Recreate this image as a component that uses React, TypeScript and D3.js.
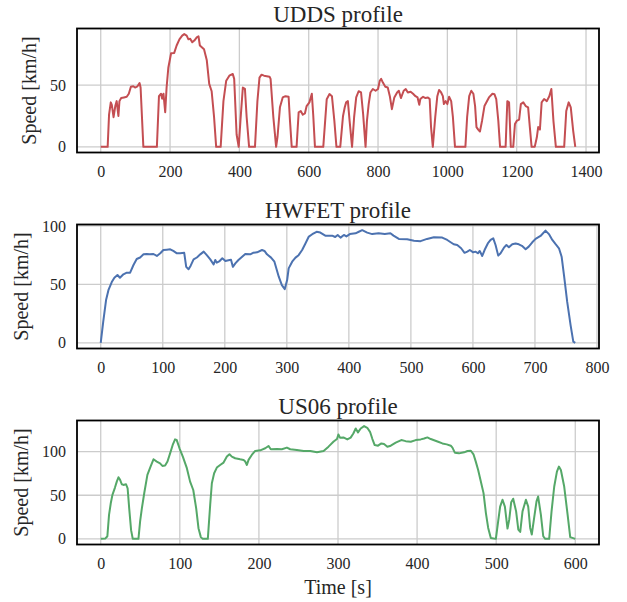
import React, { useEffect, useRef } from 'react'
import * as d3 from 'd3'

// [time s, speed km/h]
const uddsProfile: [number, number][] = [
  [0, 0], [20, 0], [24, 26], [29, 36], [32, 34], [37, 24], [42, 33], [46, 37], [51, 25], [54, 37],
  [59, 39.5], [67, 40], [75, 40.5], [81, 43], [87, 48.6], [94, 49], [99, 48], [106, 49], [112, 51.6],
  [115, 48], [123, 0], [162, 0], [168, 41], [174, 43], [177, 39], [181, 43], [186, 28], [190, 48],
  [195, 64], [203, 75.7], [212, 76], [219, 82], [227, 87], [235, 90], [241, 91.2], [248, 90], [253, 87],
  [258, 87.5], [264, 84.6], [270, 86], [277, 88.6], [282, 89.5], [286, 82], [298, 79], [306, 70],
  [313, 51], [320, 45], [327, 24], [333, 0], [346, 0], [354, 37], [362, 53.5], [371, 57.6], [381, 59],
  [385, 55], [392, 10], [398, 0], [403, 21], [410, 48], [416, 47], [421, 24], [428, 0], [445, 0],
  [452, 37], [458, 56], [464, 58.4], [471, 57.6], [487, 56.8], [490, 55], [498, 24], [506, 0],
  [510, 8], [517, 32], [525, 40], [533, 41], [542, 40.5], [546, 21], [551, 0], [565, 0], [571, 28],
  [577, 29], [583, 26], [589, 27], [594, 33], [602, 36], [609, 43], [613, 26], [618, 0], [642, 0],
  [652, 38.6], [660, 42.7], [667, 41], [674, 21], [680, 0], [691, 0], [699, 25], [704, 32], [708, 36],
  [713, 37], [718, 21], [725, 0], [731, 24], [737, 40], [744, 45], [751, 44], [757, 26.5], [764, 0],
  [768, 21], [773, 34.6], [778, 44], [785, 46.8], [793, 45.4], [800, 46.8], [805, 53.5], [809, 55],
  [814, 52], [821, 48.6], [828, 48], [834, 41], [840, 30.5], [847, 40], [855, 44], [860, 45.4],
  [866, 39.5], [874, 45.4], [880, 46.8], [886, 44], [894, 44.6], [901, 43], [908, 41], [914, 40],
  [919, 34], [922, 38.7], [930, 40.5], [937, 39.5], [944, 40], [949, 38.7], [953, 15.7], [958, 0],
  [965, 24], [971, 41], [976, 46], [982, 44], [987, 41], [990, 34.6], [995, 37], [1000, 34.6],
  [1005, 40.5], [1011, 37], [1016, 24], [1022, 0], [1052, 0], [1057, 24], [1063, 41], [1069, 45.4],
  [1075, 43], [1080, 33], [1084, 16], [1089, 14], [1094, 12.4], [1100, 21], [1107, 33], [1120, 40],
  [1130, 43], [1136, 42.5], [1141, 38.7], [1147, 21], [1152, 0], [1168, 0], [1173, 37], [1178, 36],
  [1183, 0], [1190, 0], [1195, 18.5], [1200, 21], [1207, 22], [1212, 34.6], [1219, 36], [1226, 33],
  [1233, 32], [1238, 15.7], [1243, 0], [1252, 0], [1258, 7.5], [1262, 16], [1267, 14], [1272, 36],
  [1279, 38.7], [1287, 37], [1294, 41], [1300, 46.8], [1306, 21], [1313, 0], [1337, 0], [1343, 29],
  [1350, 36], [1356, 32], [1363, 13], [1369, 0],
]

const hwfetProfile: [number, number][] = [
  [0, 0], [4, 18], [8.6, 36.6], [12.4, 45], [17.8, 52], [22, 55.7], [27, 58], [31, 55.7], [36.6, 58.6],
  [42, 60], [47.4, 60], [52.8, 66.6], [58, 71.7], [63.5, 73], [69, 75.7], [74, 76], [79, 75.7], [85, 76],
  [90.5, 74.3], [96, 76.6], [101, 79.4], [106.6, 79.7], [112, 80], [117, 78.6], [122.8, 76.6],
  [128, 76.6], [134.6, 77], [137.8, 65], [141.6, 62.9], [145, 66], [149.7, 71.4], [155, 73],
  [160.5, 75.7], [166, 78], [171, 75], [176.6, 71.4], [182, 67], [184.7, 70.9], [187, 68.6],
  [191.7, 70], [196, 72.3], [201, 70], [206, 70.6], [210, 71], [213, 65], [217, 68], [222, 70.9],
  [228, 73.7], [233, 76], [241, 75.7], [245.6, 77], [252, 77.4], [260, 79.4], [264, 78.6], [268, 75.7],
  [274.6, 72.9], [280, 69.4], [287, 56.6], [292, 49.4], [296.7, 46], [300.5, 53.7], [303, 63.7],
  [308.6, 69.4], [314, 72.9], [319, 75], [324.7, 79.4], [330, 85], [335.5, 90.9], [341, 92.9],
  [348, 95], [354, 94.3], [362, 91.7], [373, 91.7], [378, 90.5], [382, 92.3], [386.6, 90], [392, 92.3],
  [396, 91], [401.6, 93], [410.8, 93.7], [416, 95], [421.5, 96.4], [429.6, 94.3], [437.6, 93],
  [448, 93.7], [458, 93], [467, 93.7], [472, 91.7], [480.6, 88.9], [494, 88.6], [505, 87.4],
  [515.6, 87], [526, 88.9], [537, 90.3], [550.5, 90], [558.6, 88], [569, 84.3], [574.7, 83.7],
  [581, 80.9], [586.5, 77], [591, 78], [595, 79.4], [600.5, 77.4], [604, 78], [608, 76.6], [611, 78.6],
  [615, 74.3], [618.8, 79.4], [624, 85], [628.5, 88], [632.8, 89.4], [636.5, 83.7], [640.8, 74.6],
  [644.6, 76.6], [650, 81.4], [654, 83.7], [658, 81.7], [663.4, 84.3], [668.8, 85], [674, 84.3],
  [679, 83], [685, 80], [690, 82.3], [695.7, 86], [701, 88.9], [709, 91.4], [717, 96], [722.5, 93],
  [728, 88], [733, 84.6], [738.7, 80.9], [743, 73.7], [746.8, 58], [752, 35], [757.5, 15], [761.8, 1],
  [765, 0],
]

const us06Profile: [number, number][] = [
  [0, 0], [6, 0.5], [8.4, 3], [10.5, 27.5], [12.7, 40.8], [14.8, 50.4], [18, 58.8], [20.3, 65.6],
  [22.4, 70.6], [24.5, 67.6], [26.6, 62.6], [28.7, 61.8], [32, 62.6], [34, 58], [36, 35], [38.4, 10],
  [40.5, 0], [47.7, 0], [49.8, 20], [52, 35], [55, 52.3], [59, 73.3], [63, 82.8], [66.7, 91.2],
  [70.9, 88.6], [75, 86.6], [78, 83.6], [81.4, 84], [84.4, 88.6], [87.7, 98], [91, 107.6], [94, 114],
  [96, 113.4], [99.6, 103.8], [103.8, 94.3], [108.9, 81], [113, 65.6], [117, 56], [120.7, 35],
  [123.6, 12.2], [126.6, 2], [129, 0], [135.4, 0], [138.4, 39], [140.5, 63.7], [143.4, 75.2],
  [146.8, 81.7], [151, 84.7], [155.3, 87.4], [159.5, 94.3], [162.8, 97], [165.8, 94.3], [170, 92.4],
  [176.3, 91.2], [180.6, 90.5], [182.7, 88.6], [184.8, 84.7], [186.9, 90.5], [191, 96.2],
  [195.3, 100.8], [201.7, 101.5], [208, 103.8], [212.2, 106.5], [215, 102.7], [222.8, 103],
  [229, 102.7], [235.4, 104.6], [239.6, 102.7], [248, 101.9], [256.5, 100.8], [265, 100.8],
  [273.4, 99.2], [281.8, 100.8], [288, 105.7], [294.5, 111.5], [298.7, 114.5], [300.5, 119.7],
  [302.5, 116], [306.8, 116.3], [311.8, 114], [316, 116], [319.4, 120.8], [322.4, 126.5], [325.3, 122],
  [328.7, 126.5], [333, 129.2], [337, 127.3], [340.5, 122.7], [343.5, 114.4], [346.4, 107.5],
  [350.6, 106.8], [354.8, 109.4], [358.2, 108.7], [362.4, 105.6], [366.7, 106.8], [373, 110.2],
  [380, 113.2], [385.6, 112], [392, 111.3], [398.3, 113.2], [404.6, 114], [408.9, 115.1], [413, 116.3],
  [417.3, 114.4], [421.5, 113], [426.6, 111.3], [432, 109.4], [437.5, 108.3], [442.6, 106.8],
  [444.7, 104.5], [447.7, 98.8], [453, 98], [459.5, 99.2], [463.7, 100.7], [468, 101], [471.3, 96.9],
  [474.2, 88.5], [477.2, 79], [480.6, 65.7], [484, 52.4], [487, 29.6], [489.9, 12.5], [493.2, 1],
  [499.6, 0], [502.5, 20], [505, 37], [508, 44.8], [511, 37], [514.3, 11.8], [516.5, 22], [519, 42],
  [521.5, 46], [525.2, 31.5], [528, 10.6], [530.4, 8], [533.3, 31.5], [537.6, 44.8], [540.5, 37],
  [543, 12.5], [545, 5], [548, 24], [551, 43], [553, 48.6], [556.5, 27.7], [559.5, 3], [562, 0],
  [567, 0], [570, 31.5], [573.4, 60], [576.8, 77], [579.3, 82.8], [581.8, 79], [586, 60], [590.3, 27.7],
  [593.6, 2], [600, 0],
]

const uddsXTicks = [0, 200, 400, 600, 800, 1000, 1200, 1400]
const hwfetXTicks = [0, 100, 200, 300, 400, 500, 600, 700, 800]
const us06XTicks = [0, 100, 200, 300, 400, 500, 600]
const uddsYTicks = [0, 50]
const hwfetYTicks = [0, 50, 100]
const us06YTicks = [0, 50, 100]

const panels = [
  { title: 'UDDS profile', data: uddsProfile, color: '#C44E52', xTicks: uddsXTicks, yTicks: uddsYTicks },
  { title: 'HWFET profile', data: hwfetProfile, color: '#4C72B0', xTicks: hwfetXTicks, yTicks: hwfetYTicks },
  { title: 'US06 profile', data: us06Profile, color: '#55A868', xTicks: us06XTicks, yTicks: us06YTicks },
]

const FONT = "'Liberation Serif', 'Times New Roman', serif"

const App = () => {
  const ref = useRef<SVGSVGElement>(null)

  useEffect(() => {
    const width = 627
    const height = 602
    const left = 77
    const right = 599
    const tops = [28.5, 224.5, 420.5]
    const panelHeight = 124

    const svg = d3.select(ref.current).attr('width', width).attr('height', height)
    svg.selectAll('*').remove()
    svg.append('rect').attr('width', width).attr('height', height).attr('fill', '#fff')

    panels.forEach((p, i) => {
      const top = tops[i]
      const bottom = top + panelHeight
      const [x0, x1] = d3.extent(p.data, d => d[0]) as [number, number]
      const [y0, y1] = d3.extent(p.data, d => d[1]) as [number, number]
      const xPad = (x1 - x0) * 0.05
      const yPad = (y1 - y0) * 0.05

      const x = d3.scaleLinear().domain([x0 - xPad, x1 + xPad]).range([left, right])
      const y = d3.scaleLinear().domain([y0 - yPad, y1 + yPad]).range([bottom, top])

      const g = svg.append('g')

      g.selectAll('line.vgrid') // vertical grid
        .data(p.xTicks)
        .enter()
        .append('line')
        .attr('x1', d => x(d))
        .attr('x2', d => x(d))
        .attr('y1', top)
        .attr('y2', bottom)
        .attr('stroke', '#cccccc')
        .attr('stroke-width', 1.3)

      g.selectAll('line.hgrid') // horizontal grid
        .data(p.yTicks)
        .enter()
        .append('line')
        .attr('x1', left)
        .attr('x2', right)
        .attr('y1', d => y(d))
        .attr('y2', d => y(d))
        .attr('stroke', '#cccccc')
        .attr('stroke-width', 1.3)

      const line = d3
        .line<[number, number]>()
        .x(d => x(d[0]))
        .y(d => y(d[1]))

      g.append('path')
        .datum(p.data)
        .attr('d', line)
        .attr('fill', 'none')
        .attr('stroke', p.color)
        .attr('stroke-width', 2)
        .attr('stroke-linejoin', 'round')

      g.append('rect') // frame
        .attr('x', left)
        .attr('y', top)
        .attr('width', right - left)
        .attr('height', panelHeight)
        .attr('fill', 'none')
        .attr('stroke', '#000')
        .attr('stroke-width', 1.8)

      const xAxis = g
        .append('g')
        .attr('transform', `translate(0,${bottom})`)
        .call(d3.axisBottom(x).tickValues(p.xTicks).tickSize(0).tickPadding(13).tickFormat(d3.format('d')))
      const yAxis = g
        .append('g')
        .attr('transform', `translate(${left},0)`)
        .call(d3.axisLeft(y).tickValues(p.yTicks).tickSize(0).tickPadding(11).tickFormat(d3.format('d')))
      ;[xAxis, yAxis].forEach(a => {
        a.select('.domain').remove()
        a.selectAll('text').attr('font-family', FONT).attr('font-size', 16).attr('fill', '#262626')
      })

      g.append('text') // title
        .attr('x', (left + right) / 2)
        .attr('y', top - 7)
        .attr('text-anchor', 'middle')
        .attr('font-family', FONT)
        .attr('font-size', 23)
        .attr('fill', '#262626')
        .text(p.title)

      const maxLen = d3.max(p.yTicks, d => String(d).length) as number
      const labelX = left - 11 - maxLen * 8 - 14
      g.append('text') // y label
        .attr('transform', `translate(${labelX},${(top + bottom) / 2}) rotate(-90)`)
        .attr('text-anchor', 'middle')
        .attr('font-family', FONT)
        .attr('font-size', 20)
        .attr('fill', '#262626')
        .text('Speed [km/h]')
    })

    svg
      .append('text') // x label
      .attr('x', (left + right) / 2)
      .attr('y', 594)
      .attr('text-anchor', 'middle')
      .attr('font-family', FONT)
      .attr('font-size', 20)
      .attr('fill', '#262626')
      .text('Time [s]')
  }, [])

  return <svg ref={ref} style={{ position: 'absolute', left: 0, top: 0 }} />
}

export default App
